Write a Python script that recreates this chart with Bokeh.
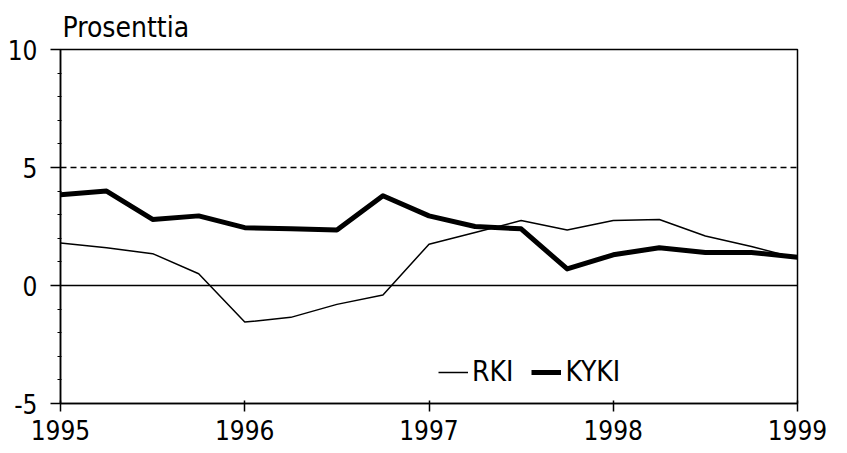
from bokeh.plotting import figure
from bokeh.models import Span, Legend, LegendItem, FixedTicker
from bokeh.embed import file_html
from bokeh.resources import INLINE

# Quarterly observations, 1995 Q1 .. 1999 Q1
quarters = [1995.0, 1995.25, 1995.5, 1995.75,
            1996.0, 1996.25, 1996.5, 1996.75,
            1997.0, 1997.25, 1997.5, 1997.75,
            1998.0, 1998.25, 1998.5, 1998.75,
            1999.0]
rki = [1.8, 1.6, 1.35, 0.5,
       -1.55, -1.35, -0.8, -0.4,
       1.75, 2.25, 2.75, 2.35,
       2.75, 2.8, 2.1, 1.65,
       1.15]
kyki = [3.85, 4.0, 2.8, 2.95,
        2.45, 2.4, 2.35, 3.8,
        2.95, 2.5, 2.4, 0.7,
        1.3, 1.6, 1.4, 1.4,
        1.2]
year_ticks = [1995, 1996, 1997, 1998, 1999]
y_ticks = [-5, 0, 5, 10]
y_tick_labels = ["-5", "0", "5", "10"]
y_minor = list(range(-5, 11))
ref_dashed = 5
ref_zero = 0
y_label = "Prosenttia"
series_names = ["RKI", "KYKI"]

FONT = "DejaVu Sans Condensed"

p = figure(width=839, height=445, output_backend="svg", toolbar_location=None,
           x_range=(1995, 1999), y_range=(-5, 10),
           min_border_left=60, min_border_right=42, min_border_top=49, min_border_bottom=42)
p.xgrid.visible = False
p.ygrid.visible = False
p.outline_line_color = "black"
p.outline_line_width = 1.5
p.background_fill_color = "white"
p.border_fill_color = "white"

p.title.text = y_label
p.title.align = "left"
p.title.offset = 2
p.title.standoff = 12
p.title.text_font = FONT
p.title.text_font_size = "28px"
p.title.text_font_style = "normal"
p.title.text_color = "black"

# axes
p.xaxis.ticker = FixedTicker(ticks=year_ticks)
p.xaxis.major_tick_out = 8
p.xaxis.major_tick_in = 3
p.xaxis.minor_tick_out = 0
p.xaxis.minor_tick_in = 0
p.xaxis.major_label_standoff = 8
p.yaxis.ticker = FixedTicker(ticks=y_ticks, minor_ticks=y_minor)
p.yaxis.major_label_overrides = dict(zip(y_ticks, y_tick_labels))
p.yaxis.major_tick_out = 10
p.yaxis.major_tick_in = 0
p.yaxis.minor_tick_out = 3
p.yaxis.minor_tick_in = 1
p.yaxis.major_label_standoff = 13
for ax in (p.xaxis, p.yaxis):
    ax.axis_line_color = "black"
    ax.axis_line_width = 1.5
    ax.major_tick_line_color = "black"
    ax.major_tick_line_width = 1.5
    ax.minor_tick_line_color = "black"
    ax.minor_tick_line_width = 1.2
    ax.major_label_text_font = FONT
    ax.major_label_text_font_size = "26px"
    ax.major_label_text_color = "black"

# reference lines
p.add_layout(Span(location=ref_dashed, dimension="width", line_color="black",
                  line_width=1.5, line_dash="6 4"))
p.add_layout(Span(location=ref_zero, dimension="width", line_color="black",
                  line_width=1.5))

r1 = p.line(quarters, rki, line_color="black", line_width=1.5)
r2 = p.line(quarters, kyki, line_color="black", line_width=5, line_join="round")

legend = Legend(items=[LegendItem(label=series_names[0], renderers=[r1]),
                       LegendItem(label=series_names[1], renderers=[r2])],
                orientation="horizontal", location=(378, 15),
                border_line_color=None, background_fill_alpha=0,
                label_text_font=FONT, label_text_font_size="28px",
                label_text_color="black",
                glyph_width=30, label_standoff=4, spacing=18, padding=0,
                margin=0)
p.add_layout(legend, "center")

open("out.html", "w").write(file_html(p, INLINE))
